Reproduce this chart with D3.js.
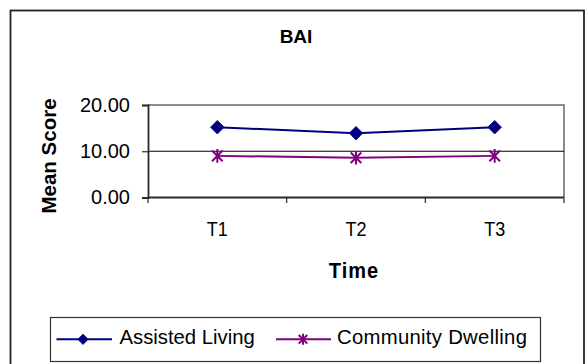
<!DOCTYPE html>
<html>
<head>
<meta charset="utf-8">
<script src="https://cdn.jsdelivr.net/npm/d3@7"></script>
<style>
  html, body { margin: 0; padding: 0; background: #fff; }
  svg { display: block; font-family: "Liberation Sans", Arial, sans-serif; }
</style>
</head>
<body>
<svg id="chart" width="587" height="364"></svg>
<script>
// BAI mean scores by time point
const categories = ["T1", "T2", "T3"];
const assistedLiving = [15.2, 13.9, 15.2];
const communityDwelling = [9.0, 8.6, 9.0];
const yTicks = [0, 10, 20];
const seriesNames = ["Assisted Living", "Community Dwelling"];

const svg = d3.select("#chart");

// outer frame
svg.append("rect")
  .attr("x", 10.5).attr("y", 10.5)
  .attr("width", 573.5).attr("height", 370)
  .attr("fill", "#fff").attr("stroke", "#222").attr("stroke-width", 1.8);

const plot = { left: 148, right: 564, top: 105, bottom: 197.5 };

const x = d3.scaleBand().domain(categories).range([plot.left, plot.right]).padding(0);
const y = d3.scaleLinear().domain([0, 20]).range([plot.bottom, plot.top]);

// plot area border (top/right)
svg.append("path")
  .attr("d", `M${plot.left},${plot.top}H${plot.right}V${plot.bottom}`)
  .attr("fill", "none").attr("stroke", "#8c8c8c").attr("stroke-width", 2);

// horizontal gridlines
svg.append("g")
  .selectAll("line")
  .data(yTicks.filter(t => t > 0 && t < 20))
  .join("line")
  .attr("x1", plot.left).attr("x2", plot.right)
  .attr("y1", d => y(d)).attr("y2", d => y(d))
  .attr("stroke", "#000").attr("stroke-width", 1);

// y axis
const yAxis = svg.append("g")
  .attr("transform", `translate(${plot.left},0)`)
  .call(d3.axisLeft(y).tickValues(yTicks).tickFormat(d3.format(".2f")).tickSize(6).tickPadding(12));
yAxis.select(".domain").attr("stroke", "#2a2a2a").attr("stroke-width", 1.8);
yAxis.selectAll(".tick line").attr("stroke", "#2a2a2a").attr("stroke-width", 1.2);
yAxis.selectAll(".tick text")
  .attr("font-size", 20).attr("fill", "#000")
  .attr("font-family", "Liberation Sans, Arial, sans-serif");

// x axis: ticks on category boundaries
const xAxis = svg.append("g")
  .attr("transform", `translate(0,${plot.bottom})`);
xAxis.append("line")
  .attr("x1", plot.left).attr("x2", plot.right)
  .attr("stroke", "#2a2a2a").attr("stroke-width", 1.8);
const boundaries = categories.map(c => x(c) + x.bandwidth()).concat([plot.left]);
xAxis.selectAll("line.tk")
  .data(boundaries)
  .join("line").attr("class", "tk")
  .attr("x1", d => d).attr("x2", d => d)
  .attr("y1", 0).attr("y2", 5.5)
  .attr("stroke", "#2a2a2a").attr("stroke-width", 1.2);
xAxis.selectAll("text")
  .data(categories)
  .join("text")
  .attr("transform", d => `translate(${x(d) + x.bandwidth() / 2},38.2) scale(1,1.1)`)
  .attr("text-anchor", "middle")
  .attr("font-size", 18)
  .text(d => d);

// titles
svg.append("text")
  .attr("x", 296).attr("y", 42.5)
  .attr("text-anchor", "middle")
  .attr("font-size", 19).attr("font-weight", "bold")
  .text("BAI");

svg.append("text")
  .attr("transform", "translate(354,278.3) scale(1,1.1)")
  .attr("text-anchor", "middle")
  .attr("font-size", 20).attr("font-weight", "bold")
  .attr("letter-spacing", 1)
  .text("Time");

svg.append("text")
  .attr("transform", "translate(56,156) rotate(-90)")
  .attr("text-anchor", "middle")
  .attr("font-size", 20.5).attr("font-weight", "bold")
  .text("Mean Score");

// series
const line = d3.line()
  .x((d, i) => x(categories[i]) + x.bandwidth() / 2)
  .y(d => y(d));

const navy = "#000080";
const purple = "#800080";

function diamond(g, cx, cy, r, color) {
  g.append("path")
    .attr("d", `M${cx},${cy - r}L${cx + r},${cy}L${cx},${cy + r}L${cx - r},${cy}Z`)
    .attr("fill", color).attr("stroke", color).attr("stroke-width", 0.8);
}
function star(g, cx, cy, r, color) {
  const d = r * 0.78;
  g.append("path")
    .attr("d", `M${cx},${cy - r}V${cy + r}M${cx - d},${cy - d}L${cx + d},${cy + d}M${cx - d},${cy + d}L${cx + d},${cy - d}`)
    .attr("fill", "none").attr("stroke", color).attr("stroke-width", 2);
}

const gAL = svg.append("g");
gAL.append("path").datum(assistedLiving)
  .attr("d", line).attr("fill", "none").attr("stroke", navy).attr("stroke-width", 2);
assistedLiving.forEach((v, i) => diamond(gAL, x(categories[i]) + x.bandwidth() / 2, y(v), 6.8, navy));

const gCD = svg.append("g");
gCD.append("path").datum(communityDwelling)
  .attr("d", line).attr("fill", "none").attr("stroke", purple).attr("stroke-width", 2);
communityDwelling.forEach((v, i) => star(gCD, x(categories[i]) + x.bandwidth() / 2, y(v), 6.8, purple));

// legend
const lg = svg.append("g");
lg.append("rect")
  .attr("x", 50.5).attr("y", 317.5).attr("width", 490).attr("height", 44)
  .attr("fill", "#fff").attr("stroke", "#333").attr("stroke-width", 1.2);

const ly = 339.3;
lg.append("line").attr("x1", 56.5).attr("x2", 112).attr("y1", ly).attr("y2", ly)
  .attr("stroke", navy).attr("stroke-width", 2);
diamond(lg, 83, ly, 5.2, navy);
lg.append("text").attr("transform", "translate(119.5,344.3) scale(1,1.04)")
  .attr("font-size", 20.3).text(seriesNames[0]);

lg.append("line").attr("x1", 276).attr("x2", 331).attr("y1", ly).attr("y2", ly)
  .attr("stroke", purple).attr("stroke-width", 2);
star(lg, 303, ly, 5.5, purple);
lg.append("text").attr("transform", "translate(337,344.3) scale(1,1.04)")
  .attr("font-size", 20.3)
  .attr("letter-spacing", 0.3).text(seriesNames[1]);
</script>
</body>
</html>
